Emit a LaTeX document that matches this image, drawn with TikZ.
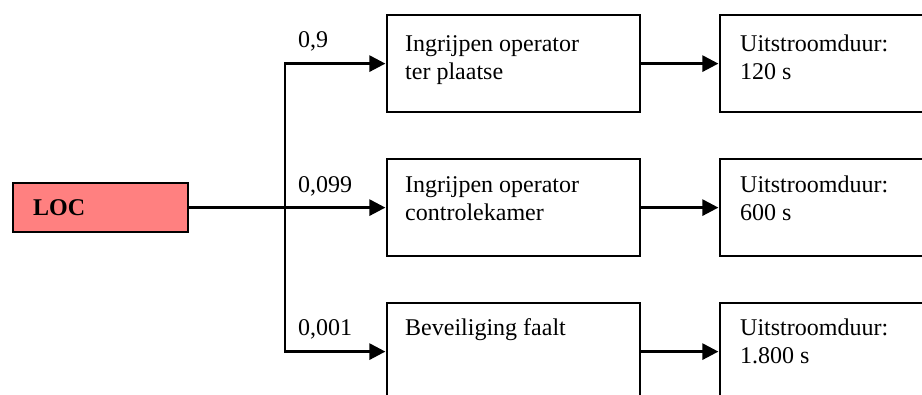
\documentclass[tikz,border=0pt]{standalone}
\usepackage{fontspec}
\setmainfont{Liberation Serif}
\usetikzlibrary{arrows.meta,calc}

\tikzset{
  x=1pt, y=-1pt,
  box/.style={draw=black, line width=2.2pt, rectangle, inner sep=0pt,
              anchor=north west, minimum width=253pt, minimum height=97pt},
  endbox/.style={box, minimum width=260pt},
  locbox/.style={draw=black, line width=2pt, fill=locred, rectangle, inner sep=0pt,
                 anchor=north west, minimum width=175pt, minimum height=49pt},
  txt/.style={anchor=base west, inner sep=0pt,
              font=\fontsize{24}{28}\selectfont},
  conn/.style={line width=2.8pt, line join=miter},
  arr/.style={conn, -{Triangle[length=16pt,width=16pt]}, shorten >=0.6pt}
}
\definecolor{locred}{HTML}{FF8080}
% two stacked lines whose baseline is that of the first line
\newcommand{\twoln}[2]{\vtop{\hbox{#1}\hbox{#2}}}

\begin{document}
\begin{tikzpicture}
  \useasboundingbox (0,0) rectangle (922,394);
  \clip (0,0) rectangle (922,394);

  % starting event
  \node[locbox] (loc) at (12,182) {};
  \node[txt, font=\fontsize{24}{28}\selectfont\bfseries] (loct) at (33,215) {LOC};

  % first column: what happens next
  \node[box] (b1) at (386,14) {};
  \node[box] (b2) at (386,158) {};
  \node[box] (b3) at (386,302) {};
  \node[txt] (b1t) at ($(b1.north west)+(19,37)$) {\twoln{Ingrijpen operator}{ter plaatse}};
  \node[txt] (b2t) at ($(b2.north west)+(19,34)$) {\twoln{Ingrijpen operator}{controlekamer}};
  \node[txt] (b3t) at ($(b3.north west)+(19,33)$) {Beveiliging faalt};

  % second column: outflow duration
  \node[endbox] (c1) at (719,14) {};
  \node[endbox] (c2) at (719,158) {};
  \node[endbox] (c3) at (719,302) {};
  \node[txt] (c1t) at ($(c1.north west)+(21,37)$) {\twoln{Uitstroomduur:}{120 s}};
  \node[txt] (c2t) at ($(c2.north west)+(21,34)$) {\twoln{Uitstroomduur:}{600 s}};
  \node[txt] (c3t) at ($(c3.north west)+(21,33)$) {\twoln{Uitstroomduur:}{1.800 s}};

  % branch probabilities
  \node[txt] (p1) at (298,47) {0,9};
  \node[txt] (p2) at (298,192) {0,099};
  \node[txt] (p3) at (298,335) {0,001};

  % tree connectors
  \coordinate (tx) at (285,0);
  \coordinate (j) at (b2.west -| tx);
  \draw[conn] (loc.east) -- (loc.east -| tx);
  \draw[arr] (j) |- (b1.west);
  \draw[arr] (j) -- (b2.west);
  \draw[arr] (j) |- (b3.west);
  \draw[arr] (b1.east) -- (c1.west);
  \draw[arr] (b2.east) -- (c2.west);
  \draw[arr] (b3.east) -- (c3.west);
\end{tikzpicture}
\end{document}
